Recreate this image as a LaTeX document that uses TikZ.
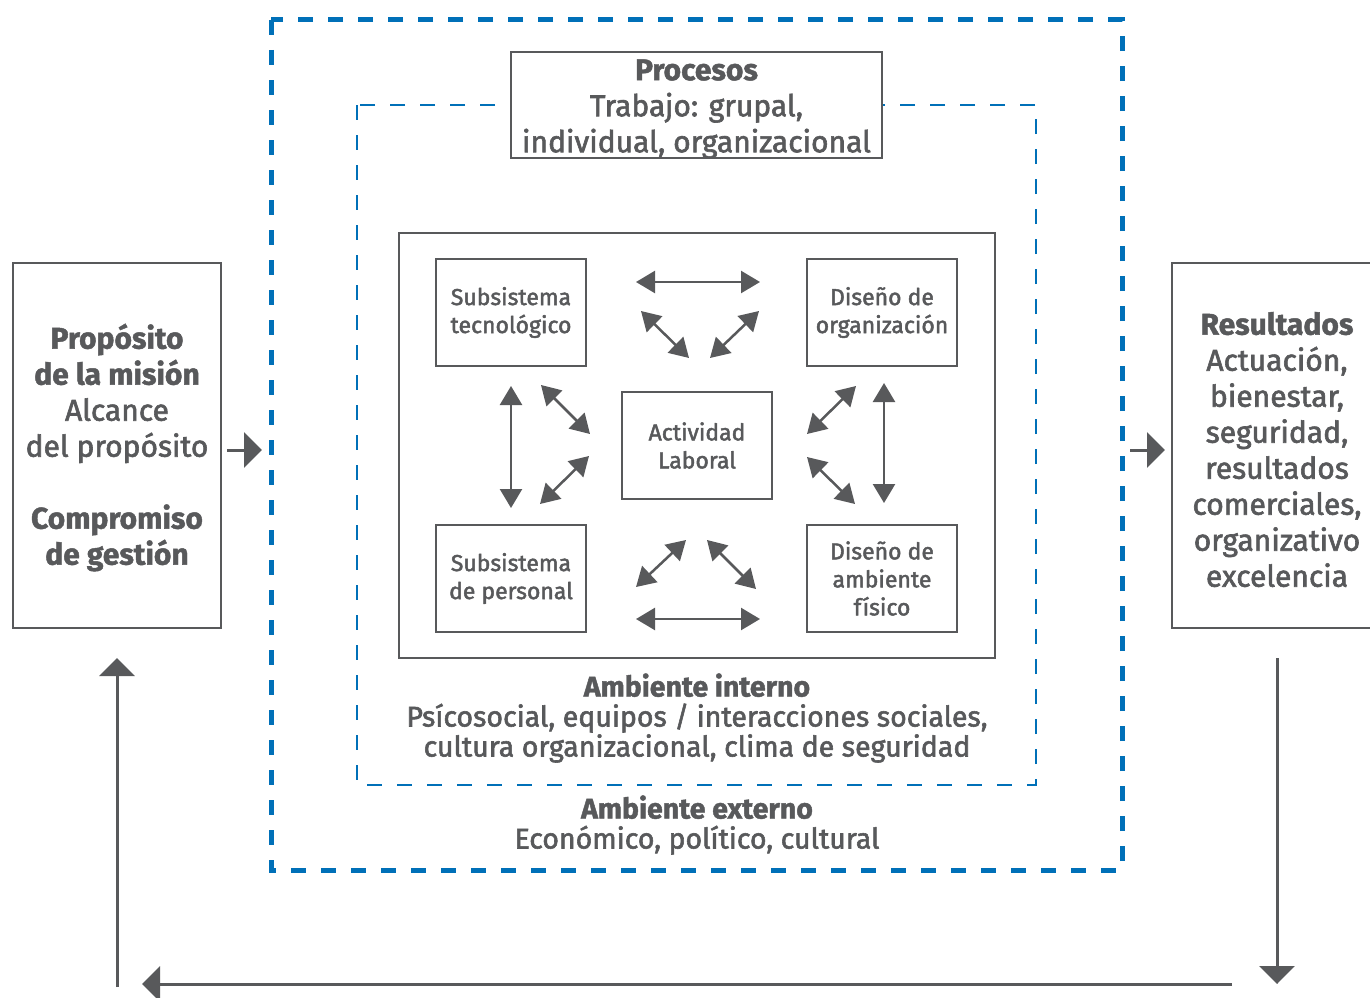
\documentclass[tikz,border=0pt]{standalone}
\usepackage{fontspec}
\setmainfont{Fira Sans}[UprightFeatures={FakeBold=2}, BoldFeatures={FakeBold=1.5}]
\usetikzlibrary{arrows.meta}
\definecolor{tgray}{HTML}{58595B}
\definecolor{tblue}{HTML}{0070B8}
\tikzset{
  box/.style={draw=tgray, line width=2pt, fill=white, text=tgray, align=center, inner sep=0pt},
  bigtxt/.style={font=\fontsize{30}{36}\selectfont},
  smalltxt/.style={font=\fontsize{23}{28}\selectfont},
  midtxt/.style={font=\fontsize{28.5}{30}\selectfont},
  plain/.style={text=tgray, align=center, inner sep=0pt},
  dbl/.style={draw=tgray, line width=2.5pt, {Triangle[length=19pt,width=22pt]}-{Triangle[length=19pt,width=22pt]}},
  flow/.style={draw=tgray, line width=3pt, -{Triangle[length=18pt,width=35pt]}},
  outerdash/.style={draw=tblue, line width=5pt, dash pattern=on 15pt off 15pt},
  innerdash/.style={draw=tblue, line width=2pt, dash pattern=on 15pt off 15pt},
}
\begin{document}
\begin{tikzpicture}[x=1pt,y=-1pt]
\path[use as bounding box] (0,0) rectangle (1370,998);
% dashed environments
\draw[outerdash] (271,20) rectangle (1122,870);
\draw[innerdash] (357,105) rectangle (1036,785);
% Procesos
\node[box, minimum width=371pt, minimum height=106pt] (proc) at (696.5,105) {};
\node[plain, bigtxt] (proctxt) at ([yshift=-4pt]proc.center)
  {\textbf{Procesos}\\Trabajo: grupal,\\individual, organizacional};
% inner box
\node[box, minimum width=596pt, minimum height=425pt] (inner) at (697,445.5) {};
\node[box, smalltxt, minimum width=150pt, minimum height=107pt] (tec) at (511,312.5) {Subsistema\\tecnológico};
\node[box, smalltxt, minimum width=150pt, minimum height=107pt] (org) at (882,312.5) {Diseño de\\organización};
\node[box, smalltxt, minimum width=150pt, minimum height=107pt] (act) at (697,445.5) {Actividad\\Laboral};
\node[box, smalltxt, minimum width=150pt, minimum height=107pt] (per) at (511,578.5) {Subsistema\\de personal};
\node[box, smalltxt, minimum width=150pt, minimum height=107pt] (amb) at (882,578.5) {Diseño de\\ambiente\\físico};
% double arrows
\coordinate (t1a) at (636,282); \coordinate (t1b) at (760,282);
\coordinate (t2a) at (641,311); \coordinate (t2b) at (689,358);
\coordinate (t3a) at (759,311); \coordinate (t3b) at (710,358);
\coordinate (l1a) at (511,386); \coordinate (l1b) at (511,508);
\coordinate (l2a) at (541,385); \coordinate (l2b) at (590,434);
\coordinate (l3a) at (589,456); \coordinate (l3b) at (540,504);
\coordinate (r1a) at (884,383); \coordinate (r1b) at (884,503);
\coordinate (r2a) at (856,386); \coordinate (r2b) at (807,434);
\coordinate (r3a) at (807,457); \coordinate (r3b) at (855,504);
\coordinate (b1a) at (636,587); \coordinate (b1b) at (686,540);
\coordinate (b2a) at (707,540); \coordinate (b2b) at (756,589);
\coordinate (b3a) at (636,619); \coordinate (b3b) at (760,619);
\foreach \p in {t1,t2,t3,l1,l2,l3,r1,r2,r3,b1,b2,b3}
  \draw[dbl] (\p a) -- (\p b);
% ambient texts
\node[plain, midtxt] (ambint) at (697,718)
  {\textbf{Ambiente interno}\\Psícosocial, equipos / interacciones sociales,\\cultura organizacional, clima de seguridad};
\node[plain, midtxt] (ambext) at (697,825)
  {\textbf{Ambiente externo}\\Económico, político, cultural};
% side boxes
\node[box, minimum width=208pt, minimum height=365pt] (prop) at (117,445.5) {};
\node[plain, bigtxt] (proptxt) at ([yshift=-2pt]prop.center)
  {\textbf{Propósito}\\\textbf{de la misión}\\Alcance\\del propósito\\[36pt]\textbf{Compromiso}\\\textbf{de gestión}};
\node[box, minimum width=210pt, minimum height=365pt] (res) at (1277,445.5) {};
\node[plain, bigtxt] (restxt) at ([yshift=-4pt]res.center)
  {\textbf{Resultados}\\Actuación,\\bienestar,\\seguridad,\\resultados\\comerciales,\\organizativo\\excelencia};
% flow arrows
\coordinate (la) at (227,450); \coordinate (lb) at (262,450);
\coordinate (ra) at (1130,450); \coordinate (rb) at (1165,450);
\draw[flow] (la) -- (lb);
\draw[flow] (ra) -- (rb);
\coordinate (d1) at (1277,658); \coordinate (d2) at (1277,984);
\coordinate (h1) at (1232,984); \coordinate (h2) at (142,984);
\coordinate (u1) at (117,987); \coordinate (u2) at (117,658);
\draw[flow] (d1) -- (d2);
\draw[flow] (h1) -- (h2);
\draw[flow] (u1) -- (u2);
\end{tikzpicture}
\end{document}
